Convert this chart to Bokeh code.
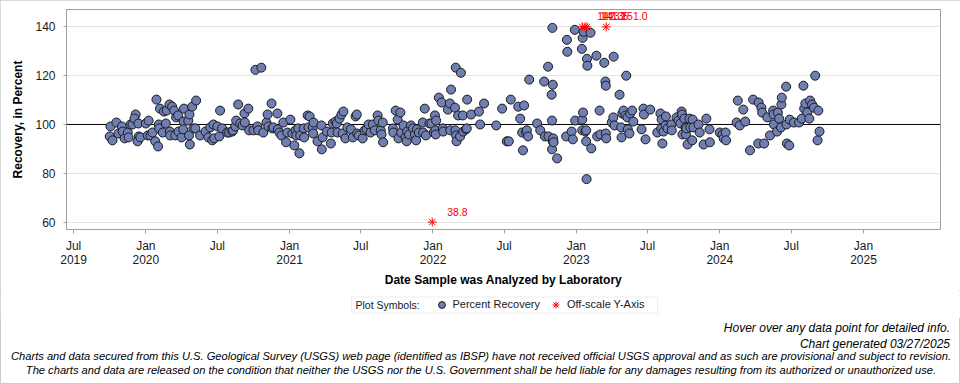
import pandas as pd
from bokeh.plotting import figure
from bokeh.layouts import column
from bokeh.models import (ColumnDataSource, FixedTicker, Span, Label, Legend, LegendItem,
                          Range1d, BoxAnnotation, Div)
from bokeh.core.properties import value
from bokeh.embed import file_html
from bokeh.resources import INLINE

# ---------------- data ----------------
sample_dates = [
    "2019-10-03", "2019-10-18", "2019-10-01", "2019-10-08", "2019-11-01", "2019-10-23", "2019-11-03",
    "2019-11-08", "2019-11-16", "2019-11-18", "2019-11-23", "2019-11-28", "2019-12-06", "2019-12-03",
    "2019-12-13", "2019-12-14", "2019-12-11", "2019-12-18", "2020-01-01", "2020-01-08", "2020-01-06",
    "2020-01-13", "2020-01-18", "2020-01-28", "2020-01-25", "2020-02-01", "2020-02-03", "2020-02-04",
    "2020-02-06", "2020-02-13", "2020-02-16", "2020-02-23", "2020-02-21", "2020-03-01", "2020-03-02",
    "2020-03-03", "2020-03-08", "2020-03-13", "2020-03-16", "2020-03-18", "2020-03-23", "2020-03-24",
    "2020-04-01", "2020-04-06", "2020-04-07", "2020-04-05", "2020-04-18", "2020-04-21", "2020-04-20",
    "2020-04-22", "2020-04-28", "2020-05-01", "2020-05-08",
    "2020-05-06", "2020-05-18", "2020-06-01", "2020-06-08", "2020-06-13", "2020-06-18", "2020-06-21",
    "2020-06-23", "2020-07-01", "2020-07-06", "2020-07-08", "2020-07-13", "2020-07-26", "2020-07-31",
    "2020-08-08", "2020-08-10", "2020-08-16", "2020-08-18", "2020-08-23", "2020-08-28", "2020-09-03",
    "2020-09-08", "2020-09-09", "2020-09-18", "2020-09-20", "2020-10-01", "2020-10-06", "2020-10-21",
    "2020-10-11", "2020-10-13", "2020-10-26", "2020-11-03", "2020-11-06", "2020-11-08", "2020-11-16",
    "2020-11-18", "2020-11-21", "2020-12-01", "2020-12-02", "2020-12-06", "2020-12-11", "2020-12-16",
    "2020-12-23", "2020-12-26", "2021-01-03", "2021-01-08", "2021-01-13", "2021-01-16", "2021-01-18",
    "2021-01-23", "2021-01-26", "2021-01-28", "2021-02-06", "2021-02-07", "2021-02-16", "2021-02-21",
    "2021-02-18", "2021-03-01", "2021-03-02", "2021-03-03",
    "2021-03-13", "2021-03-23", "2021-03-24", "2021-03-26", "2021-04-06", "2021-04-16", "2021-04-18",
    "2021-04-21", "2021-04-28", "2021-05-01", "2021-05-03", "2021-05-08", "2021-05-13", "2021-05-18",
    "2021-05-16", "2021-05-23", "2021-05-28", "2021-06-06", "2021-06-11", "2021-06-18", "2021-06-21",
    "2021-06-22", "2021-06-26", "2021-07-06", "2021-07-11", "2021-07-16", "2021-07-21", "2021-07-26",
    "2021-08-01", "2021-08-06", "2021-08-13", "2021-08-15", "2021-08-21", "2021-08-23", "2021-08-26",
    "2021-08-27", "2021-09-21", "2021-09-22", "2021-09-28", "2021-10-03", "2021-10-05", "2021-10-10",
    "2021-10-12", "2021-10-18", "2021-10-23", "2021-10-26", "2021-10-27", "2021-11-01", "2021-11-06",
    "2021-11-11", "2021-11-16", "2021-11-21", "2021-11-19", "2021-11-26", "2021-12-06", "2021-12-07",
    "2021-12-11", "2021-12-14", "2021-12-23", "2022-01-03",
    "2021-12-28", "2022-01-06", "2022-01-09", "2022-01-07", "2022-01-08", "2022-01-16", "2022-01-23",
    "2022-01-26", "2022-01-27", "2022-02-08", "2022-02-13", "2022-02-16", "2022-02-14", "2022-02-26",
    "2022-02-27", "2022-03-01", "2022-03-02", "2022-02-28", "2022-03-13", "2022-03-06", "2022-03-11",
    "2022-03-18", "2022-03-19", "2022-03-26", "2022-03-28", "2022-03-29", "2022-04-08", "2022-04-28",
    "2022-05-01", "2022-05-11", "2022-06-11", "2022-06-26", "2022-07-08", "2022-07-13", "2022-07-18",
    "2022-08-06", "2022-08-11", "2022-08-21", "2022-08-16", "2022-08-26", "2022-08-28", "2022-08-31",
    "2022-08-18", "2022-09-03", "2022-09-23", "2022-10-01", "2022-10-11", "2022-10-13", "2022-10-21",
    "2022-10-22", "2022-11-01", "2022-11-02", "2022-10-30", "2022-10-31", "2022-11-02", "2022-10-31",
    "2022-11-03", "2022-11-04", "2022-11-13", "2022-12-06", "2022-12-09", "2022-12-08", "2022-12-20",
    "2022-12-23", "2022-12-28", "2022-12-29", "2023-01-16", "2023-01-15", "2023-01-18", "2023-01-17",
    "2023-01-20", "2023-01-16", "2023-01-24", "2023-01-26", "2023-01-28", "2023-01-29", "2023-01-26",
    "2023-01-27", "2023-02-06", "2023-02-08", "2023-02-21", "2023-02-23", "2023-03-01", "2023-03-03",
    "2023-03-13", "2023-03-16", "2023-03-17", "2023-03-17", "2023-03-18", "2023-04-06", "2023-04-01",
    "2023-04-05", "2023-04-08", "2023-04-21", "2023-04-26", "2023-04-25", "2023-04-28", "2023-05-08",
    "2023-05-01", "2023-05-06", "2023-05-11", "2023-05-12", "2023-05-16", "2023-05-18", "2023-05-23",
    "2023-05-26", "2023-06-16", "2023-06-21", "2023-06-22", "2023-06-26", "2023-07-08", "2023-07-26",
    "2023-08-03", "2023-08-06", "2023-08-08", "2023-08-05", "2023-08-11", "2023-08-16", "2023-08-17",
    "2023-08-21", "2023-08-31", "2023-09-01",
    "2023-09-13", "2023-09-18", "2023-09-26", "2023-09-27", "2023-09-23", "2023-09-28", "2023-10-03",
    "2023-10-06", "2023-10-07", "2023-10-08", "2023-10-11", "2023-10-16", "2023-10-18", "2023-10-23",
    "2023-10-24", "2023-10-26", "2023-11-08", "2023-11-11", "2023-11-21", "2023-11-28", "2023-12-06",
    "2023-12-07", "2024-01-01", "2024-01-08", "2024-01-11", "2024-01-16", "2024-01-17", "2024-02-16",
    "2024-02-13", "2024-02-21", "2024-03-01", "2024-03-06", "2024-03-18", "2024-03-26", "2024-04-08",
    "2024-04-09", "2024-04-16", "2024-04-18", "2024-04-23", "2024-05-01", "2024-05-08", "2024-05-16",
    "2024-05-17", "2024-05-18", "2024-05-26", "2024-05-28", "2024-05-31", "2024-06-06", "2024-06-05",
    "2024-06-07", "2024-06-18", "2024-06-19", "2024-06-20", "2024-06-26", "2024-06-27", "2024-07-08",
    "2024-07-21", "2024-07-28", "2024-08-01", "2024-08-03", "2024-08-06", "2024-08-11", "2024-08-16",
    "2024-08-18", "2024-08-23", "2024-08-28", "2024-08-31", "2024-09-06", "2024-09-11", "2024-09-08",
]
percent_recovery = [
    99.2, 100.8, 95.1, 93.5, 99.2, 96.3, 97.1,
    94.3, 96.7, 94.7, 100.0, 100.0, 104.1, 102.4,
    100.4, 95.1, 93.1, 94.7, 100.4, 101.6, 95.5,
    95.5, 96.7, 110.2, 93.1, 91.0, 100.0, 98.4,
    106.5, 96.7, 105.3, 105.7, 100.4, 108.2, 97.1,
    95.5, 107.3, 105.7, 95.5, 102.9, 103.7, 97.1,
    94.7, 101.2, 106.5, 98.0, 101.6, 104.1, 95.5,
    91.8, 107.3, 98.4, 109.8,
    98.4, 95.5, 97.1, 94.7, 98.8, 93.5, 100.0,
    94.3, 99.2, 95.1, 105.7, 98.4, 96.7, 96.7,
    97.1, 97.6, 99.2, 101.6, 108.2, 100.4, 99.6,
    104.5, 100.8, 106.5, 97.6, 97.6, 122.4, 123.3,
    99.2, 97.6, 96.7, 100.8, 104.1, 99.2, 108.6,
    98.4, 98.8, 104.5, 98.0, 96.7, 95.5, 100.8,
    92.7, 96.7, 102.0, 96.3, 91.4, 97.6, 95.5,
    98.4, 88.2, 95.5, 98.4, 94.7, 103.7, 103.3,
    98.8, 98.8, 96.3, 100.8,
    93.1, 99.6, 89.8, 94.7, 97.1, 92.2, 96.7,
    100.4, 101.2, 100.4, 96.7, 102.4, 104.1, 105.3,
    96.3, 94.3, 98.8, 98.0, 94.7, 103.3, 104.1,
    96.3, 95.5, 94.3, 97.6, 98.0, 100.0, 96.7,
    100.0, 97.6, 103.7, 101.6, 97.6, 95.9, 100.8,
    92.7, 98.4, 96.7, 105.7, 102.0, 94.3, 104.9,
    96.7, 99.6, 94.7, 93.1, 97.1, 95.9, 99.6,
    98.4, 95.9, 98.0, 93.5, 96.7, 100.8, 96.7,
    106.5, 95.5, 100.4, 96.7,
    100.4, 103.7, 101.6, 97.6, 95.9, 111.0, 109.0,
    98.4, 97.1, 106.1, 108.6, 114.3, 97.6, 106.9,
    97.6, 95.5, 93.1, 123.3, 121.2, 103.7, 95.1,
    103.7, 97.1, 98.0, 98.4, 110.2, 104.1, 105.3,
    100.0, 108.6, 99.6, 106.5, 93.1, 93.1, 110.2,
    107.3, 102.4, 107.8, 96.7, 96.7, 97.6, 95.1,
    89.4, 118.4, 100.4, 97.6, 117.6, 95.1, 123.7,
    95.1, 139.6, 116.3, 112.2, 101.6, 93.1, 89.8,
    94.3, 92.7, 86.1, 95.1, 129.8, 134.7, 97.1,
    93.9, 138.8, 101.6, 102.0, 131.0, 104.9, 135.5,
    138.0, 97.6, 97.1, 97.6, 126.9, 124.1, 93.1,
    77.6, 137.6, 90.2, 128.2, 95.1, 105.7, 95.9,
    125.3, 117.6, 115.9, 96.3, 94.3, 127.8, 100.8,
    102.9, 99.6, 112.2, 94.7, 98.8, 104.5, 120.0,
    105.7, 103.7, 102.9, 98.0, 96.3, 104.5, 105.7,
    101.2, 98.0, 106.5, 104.1, 93.9, 106.1, 96.7,
    104.5, 102.0, 92.2, 98.4, 97.1, 99.6, 103.3,
    98.4, 100.0, 97.6,
    102.9, 101.6, 105.3, 104.1, 100.4, 95.9, 102.4,
    98.8, 95.9, 98.4, 91.8, 102.4, 98.8, 93.5,
    102.0, 98.8, 100.0, 96.7, 91.8, 102.4, 98.0,
    92.7, 96.7, 95.9, 94.3, 96.7, 93.5, 109.8,
    100.8, 99.6, 106.1, 101.2, 89.4, 110.2, 92.2,
    109.0, 106.9, 104.9, 92.2, 102.9, 95.5, 105.7,
    104.1, 100.0, 97.1, 104.9, 102.4, 108.2, 98.8,
    111.0, 115.5, 100.0, 92.2, 91.4, 102.0, 100.8,
    100.8, 102.4, 115.9, 106.5, 108.6, 104.9, 102.4,
    109.8, 108.2, 106.9, 120.0, 93.5, 97.1, 105.7,
]

offscale_dates = ["2021-12-30", "2023-01-16", "2023-01-23", "2023-01-28", "2023-03-18"]
offscale_values = [38.8, 142.3, 141.2, 143.5, 151.0]

xtick_dates = ["2019-07-01", "2020-01-01", "2020-07-01", "2021-01-01", "2021-07-01", "2022-01-01",
               "2022-07-01", "2023-01-01", "2023-07-01", "2024-01-01", "2024-07-01", "2025-01-01"]
xtick_labels = ["Jul\n2019", "Jan\n2020", "Jul", "Jan\n2021", "Jul", "Jan\n2022",
                "Jul", "Jan\n2023", "Jul", "Jan\n2024", "Jul", "Jan\n2025"]
ytick_values = [60, 80, 100, 120, 140]

legend_title = "Plot Symbols:"
legend_labels = ["Percent Recovery", "Off-scale Y-Axis"]
footer_right = ["Hover over any data point for detailed info.", "Chart generated 03/27/2025"]
footer_center = [
    "Charts and data secured from this U.S. Geological Survey (USGS) web page (identified as IBSP) "
    "have not received official USGS approval and as such are provisional and subject to revision.",
    "The charts and data are released on the condition that neither the USGS nor the U.S. Government "
    "shall be held liable for any damages resulting from its authorized or unauthorized use.",
]

# ---------------- styling constants ----------------
FONT = "Liberation Sans"
FILL = "#6F7EB3"
X_START, X_END = pd.Timestamp("2019-06-13"), pd.Timestamp("2025-07-16")
Y_MIN, Y_MAX = 56.94, 147.14
OFF_HIGH, OFF_LOW = 140, 60
REFERENCE = 100
W, H_MAIN, H_LEG, H_NOTE = 960, 290, 28, 66
BORDER_L, BORDER_R = 66, 20

# ---------------- main chart ----------------
p = figure(width=W, height=H_MAIN, x_axis_type="datetime", output_backend="svg",
           toolbar_location=None, x_range=Range1d(X_START, X_END), y_range=Range1d(Y_MIN, Y_MAX),
           min_border_left=BORDER_L, min_border_right=BORDER_R, min_border_top=9,
           min_border_bottom=60)
p.background_fill_color = "white"
p.border_fill_color = "white"
p.outline_line_color = "#a0a0a0"
p.outline_line_width = 1

p.xgrid.grid_line_color = None
p.ygrid.grid_line_color = "#e4e4e4"
p.ygrid.ticker = FixedTicker(ticks=ytick_values)

p.add_layout(Span(location=REFERENCE, dimension="width", line_color="black", line_width=1,
                  level="underlay"))

src = ColumnDataSource(dict(date=pd.to_datetime(sample_dates), rec=percent_recovery))
p.scatter("date", "rec", source=src, size=9, marker="circle", fill_color=FILL,
          line_color="#1a1a1a", line_width=1)

off_y = [OFF_HIGH if v > REFERENCE else OFF_LOW for v in offscale_values]
off_src = ColumnDataSource(dict(date=pd.to_datetime(offscale_dates), y=off_y,
                                lab=[f"{v:.1f}" for v in offscale_values]))
p.scatter("date", "y", source=off_src, marker="asterisk", size=9, line_color="red", line_width=1)
p.text("date", "y", text="lab", source=off_src, x_offset=15, y_offset=-10.5, text_color="red",
       text_font=value(FONT), text_font_size="10.5px", text_baseline="middle", text_align="left")

tick_ms = [pd.Timestamp(d).value // 10**6 for d in xtick_dates]
p.xaxis.ticker = FixedTicker(ticks=tick_ms)
p.xaxis.major_label_overrides = {t: lab for t, lab in zip(tick_ms, xtick_labels)}
p.yaxis.ticker = FixedTicker(ticks=ytick_values)
for ax in (p.xaxis, p.yaxis):
    ax.axis_line_color = "#a0a0a0"
    ax.major_tick_line_color = "#a0a0a0"
    ax.major_tick_in = 0
    ax.minor_tick_line_color = None
    ax.major_label_text_font = FONT
    ax.major_label_text_font_size = "12px"
    ax.major_label_text_color = "#1a1a1a"
    ax.axis_label_text_font = FONT
    ax.axis_label_text_font_size = "12px"
    ax.axis_label_text_font_style = "bold"
    ax.axis_label_text_color = "black"
p.xaxis.major_tick_out = 4
p.xaxis.major_label_standoff = 5
p.xaxis.major_label_text_line_height = 1.05
p.xaxis.axis_label = "Date Sample was Analyzed by Laboratory"
p.xaxis.axis_label_standoff = 3
p.yaxis.major_tick_out = 3
p.yaxis.major_label_standoff = 8
p.yaxis.axis_label = "Recovery, in Percent"
p.yaxis.axis_label_standoff = 7

# ---------------- legend strip (data units = page pixels) ----------------
top = H_MAIN
bot = H_MAIN + H_LEG
f = figure(width=W, height=H_LEG, output_backend="svg", toolbar_location=None,
           x_range=Range1d(BORDER_L, W - BORDER_R), y_range=Range1d(bot, top),
           x_axis_location=None, y_axis_location=None, min_border_left=BORDER_L,
           min_border_right=BORDER_R, min_border_top=0, min_border_bottom=0)
f.outline_line_color = None
f.background_fill_color = "white"
f.border_fill_color = "white"
f.grid.visible = False

f.add_layout(BoxAnnotation(left=351, right=657, top=296.5, bottom=312.5, fill_color="white",
                           fill_alpha=1, line_color="#c8c8c8", line_width=1, level="underlay"))
f.add_layout(Label(x=355, y=304.3, text=legend_title, text_font=FONT, text_font_size="10.5px",
                   text_baseline="middle", text_color="#1a1a1a"))
# legend proxies: one sample each, kept outside the visible strip
leg_circ = f.scatter(x=[0], y=[-1000], marker="circle", size=9, fill_color=FILL,
                     line_color="#1a1a1a", line_width=1)
leg_star = f.scatter(x=[0], y=[-1000], marker="asterisk", size=9, line_color="red", line_width=1)
legend = Legend(items=[LegendItem(label=legend_labels[0], renderers=[leg_circ]),
                       LegendItem(label=legend_labels[1], renderers=[leg_star])],
                location=(432.5 - BORDER_L, bot - 312.8), orientation="horizontal", padding=0,
                margin=0, glyph_width=17, glyph_height=17, label_height=17, label_standoff=3,
                spacing=7, label_text_font=FONT, label_text_font_size="11px",
                label_text_color="#1a1a1a", border_line_alpha=0, background_fill_alpha=0)
f.add_layout(legend, "center")

# ---------------- notes ----------------
note_top = H_MAIN + H_LEG
line_h = 14
spans = []
for yc, t in zip([327.5, 343.5], footer_right):
    spans.append(f'<div style="position:absolute;right:{W - 950}px;top:{yc - note_top - line_h / 2}px;'
                 f'line-height:{line_h}px;white-space:nowrap;">{t}</div>')
for yc, t in zip([356, 369.5], footer_center):
    spans.append(f'<div style="position:absolute;left:481px;transform:translateX(-50%);'
                 f'font-size:11.15px;top:{yc - note_top - line_h / 2}px;line-height:{line_h}px;'
                 f'white-space:nowrap;">{t}</div>')
notes_html = (f'<div style="position:relative;width:{W}px;height:{H_NOTE}px;overflow:hidden;'
              f"font-family:'{FONT}';font-size:12px;font-style:italic;color:#000;\">"
              + "".join(spans) + "</div>")
notes = Div(text=notes_html, width=W, height=H_NOTE, margin=0)

page = column(p, f, notes, spacing=0,
              styles={"outline": "1px solid #cccccc", "outline-offset": "-1px"})
open("out.html", "w").write(file_html(page, INLINE))
